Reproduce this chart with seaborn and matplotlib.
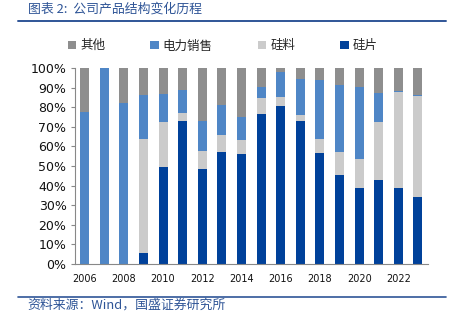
import numpy as np
import pandas as pd
import matplotlib
matplotlib.use("Agg")
import matplotlib.pyplot as plt
from matplotlib.patches import Patch
from matplotlib.lines import Line2D
import seaborn as sns

years = [str(y) for y in range(2006, 2024)]
# shares in percent
wafer = [0, 0, 0, 5.6, 49.3, 72.9, 48.5, 57.2, 56.1, 76.8, 80.7, 72.9, 56.5, 45.2, 38.6, 42.7, 38.7, 34.3]   # 硅片
poly = [0, 0, 0, 58.1, 23.2, 4.1, 9.0, 8.5, 7.0, 7.8, 4.6, 3.0, 7.3, 12.0, 15.0, 30.0, 49.2, 51.5]         # 硅料
power = [77.8, 100, 82.3, 22.6, 14.5, 11.9, 15.5, 15.5, 12.2, 5.7, 12.5, 18.6, 29.9, 34.1, 36.8, 14.8, 0.5, 0.7]  # 电力销售
other = [round(100 - a - b - c, 1) for a, b, c in zip(wafer, poly, power)]  # 其他

series_names = ["其他", "电力销售", "硅料", "硅片"]
colors = {"其他": "#8E8E8E", "电力销售": "#4F86C6", "硅料": "#CBCBCB", "硅片": "#00419A"}

sns.set_theme(style="white")
plt.rcParams['font.family'] = ['DejaVu Sans', 'Noto Sans CJK SC']
cjk = ['Noto Sans CJK SC', 'DejaVu Sans']

fig = plt.figure(figsize=(4.59, 3.23), dpi=100)
ax = fig.add_axes([0.163, 0.183, 0.769, 0.606])

cum_wafer = np.array(wafer)
cum_poly = cum_wafer + np.array(poly)
cum_power = cum_poly + np.array(power)
cum_other = cum_power + np.array(other)

layers = [("其他", cum_other), ("电力销售", cum_power), ("硅料", cum_poly), ("硅片", cum_wafer)]
for name, vals in layers:
    df = pd.DataFrame({"year": years, "value": vals})
    sns.barplot(data=df, x="year", y="value", color=colors[name], width=0.46,
                saturation=1, ax=ax, linewidth=0, errorbar=None)

ax.set_xlim(-0.5, 17.5)
ax.set_ylim(0, 100)
ax.set_yticks(np.arange(0, 101, 10))
ax.set_yticklabels([f"{v}%" for v in range(0, 101, 10)], fontsize=9, color="#111111")
ax.set_xticks(range(0, 18, 2))
ax.set_xticklabels(years[::2], fontsize=7, color="#111111")
ax.set_xticks(np.arange(-0.5, 18, 1), minor=True)
ax.tick_params(axis="x", which="major", length=0, pad=7)
ax.tick_params(axis="x", which="minor", length=3, color="#888888", width=0.8, direction="out")
ax.tick_params(axis="y", length=3, color="#888888", width=0.8, direction="out", left=True, pad=3)
ax.set_xlabel("")
ax.set_ylabel("")
for s in ["top", "right"]:
    ax.spines[s].set_visible(False)
for s in ["left", "bottom"]:
    ax.spines[s].set_color("#888888")
    ax.spines[s].set_linewidth(0.8)

handles = [Patch(facecolor=colors[n], edgecolor="none", label=n) for n in series_names]
leg = fig.legend(handles=handles, loc="center", bbox_to_anchor=(0.485, 0.858), ncol=4,
                 frameon=False, handlelength=0.7, handleheight=0.7, handletextpad=0.3,
                 columnspacing=3.6, prop={'family': cjk, 'size': 9})

title_color = "#2F5597"
fig.text(0.06, 0.972, "图表 2:  公司产品结构变化历程", fontsize=9.3, color=title_color,
         family=cjk, style="italic", va="center", ha="left")
fig.add_artist(Line2D([0.039, 0.972], [0.935, 0.935], color=title_color, linewidth=1.4))
fig.add_artist(Line2D([0.039, 0.972], [0.080, 0.080], color=title_color, linewidth=1.2))
fig.text(0.06, 0.054, "资料来源：Wind，国盛证券研究所", fontsize=9.3, color=title_color,
         family=cjk, style="italic", va="center", ha="left")

fig.savefig("out.png", dpi=100)
